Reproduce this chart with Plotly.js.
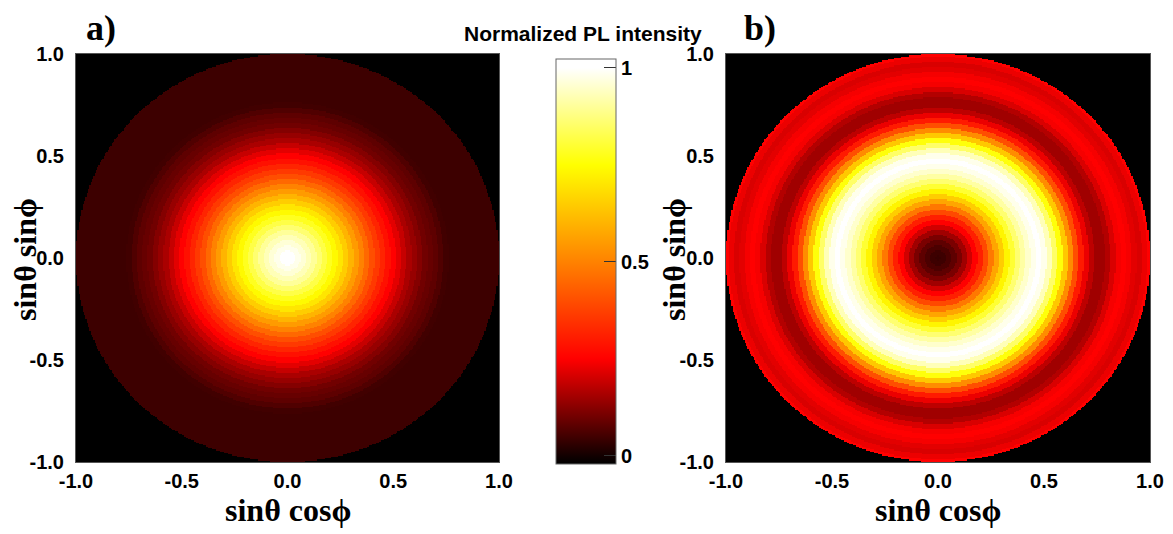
<!DOCTYPE html>
<html>
<head>
<meta charset="utf-8">
<script src="https://cdn.plot.ly/plotly-3.0.1.min.js"></script>
<style>html,body{margin:0;padding:0;background:#fff;}#chart{width:1173px;height:534px;}</style>
</head>
<body>
<div id="chart"></div>
<script>
// Radial sample positions (sinθ), shared by both panels
const radii = [0.000,0.025,0.050,0.075,0.100,0.125,0.150,0.175,0.200,0.225,
               0.250,0.275,0.300,0.325,0.350,0.375,0.400,0.425,0.450,0.475,
               0.500,0.525,0.550,0.575,0.600,0.625,0.650,0.675,0.700,0.725,
               0.750,0.775,0.800,0.825,0.850,0.875,0.900,0.925,0.950,0.975,1.000];
// Panel a) normalized PL intensity vs radius (read from picture)
const profileA = [1.00,1.00,0.98,0.96,0.93,0.90,0.86,0.82,0.78,0.74,
                  0.70,0.65,0.60,0.55,0.50,0.45,0.40,0.36,0.32,0.28,
                  0.25,0.22,0.19,0.16,0.14,0.12,0.10,0.09,0.08,0.065,
                  0.05,0.045,0.045,0.045,0.045,0.045,0.045,0.045,0.045,0.045,0.045];
// Panel b) normalized PL intensity vs radius (read from picture)
const profileB = [0.04,0.045,0.06,0.08,0.11,0.15,0.20,0.25,0.31,0.39,
                  0.48,0.57,0.65,0.73,0.80,0.86,0.91,0.95,0.98,1.00,
                  0.98,0.93,0.85,0.76,0.64,0.52,0.40,0.30,0.23,0.18,
                  0.15,0.15,0.17,0.21,0.24,0.25,0.24,0.22,0.21,0.23,0.25];
const axisTicks = [-1.0,-0.5,0.0,0.5,1.0];
const axisTickText = ['-1.0','-0.5','0.0','0.5','1.0'];
const cbTicks = [0,0.5,1];
const cbTickText = ['0','0.5','1'];
const panelLabels = ['a)','b)'];
const xTitle = 'sinθ cosϕ';
const yTitle = 'sinθ sinϕ';
const cbTitle = 'Normalized PL intensity';

// Build the Cartesian table from the radial samples (nearest sample)
const N = 320;
const step = radii[1]-radii[0];
const coords = [];
for (let i=0;i<N;i++) coords.push(-1 + (i+0.5)*2/N);
function buildGrid(profile){
  const z=[];
  for (let j=0;j<N;j++){
    const row=[];
    for (let i=0;i<N;i++){
      const r=Math.sqrt(coords[i]*coords[i]+coords[j]*coords[j]);
      if (r>1) { row.push(null); continue; }
      row.push(profile[Math.round(r/step)]);
    }
    z.push(row);
  }
  return z;
}

const zmin=-0.021, zmax=1.023;
function pos(v){ return (v-zmin)/(zmax-zmin); }
const colorscale=[
  [0,'rgb(0,0,0)'],
  [pos(0),'rgb(18,0,0)'],
  [pos(0.25),'rgb(255,0,0)'],
  [pos(0.5),'rgb(255,130,0)'],
  [pos(0.75),'rgb(255,255,0)'],
  [pos(1.0),'rgb(255,255,255)'],
  [1,'rgb(255,255,255)']
];

const W=1173,H=534;
const px=(v)=>v/W, py=(v)=>(H-v)/H;

const traces=[
  {type:'heatmap',x:coords,y:coords,z:buildGrid(profileA),xaxis:'x',yaxis:'y',
   zmin:zmin,zmax:zmax,colorscale:colorscale,hoverinfo:'skip',showscale:true,
   colorbar:{x:px(556),xanchor:'left',xpad:0,ypad:0,y:py(464),yanchor:'bottom',
     len:405,lenmode:'pixels',thickness:60,thicknessmode:'pixels',
     outlinecolor:'#666',outlinewidth:1,
     tickvals:cbTicks,ticktext:cbTickText,ticks:'inside',ticklen:12,tickcolor:'#333',tickwidth:1,
     tickfont:{family:'Liberation Sans, Arial',size:20,color:'#000',weight:'bold'}}},
  {type:'heatmap',x:coords,y:coords,z:buildGrid(profileB),xaxis:'x2',yaxis:'y2',
   zmin:zmin,zmax:zmax,colorscale:colorscale,hoverinfo:'skip',showscale:false}
];

const tickFont={family:'Liberation Sans, Arial',size:20,color:'#000',weight:'bold'};
function ax(domain,anchor,tlen){
  return {domain:domain,anchor:anchor,range:[-1,1],tickvals:axisTicks,ticktext:axisTickText,
    ticks:'outside',ticklen:tlen,tickcolor:'rgba(0,0,0,0)',tickfont:tickFont,
    showgrid:false,zeroline:false,showline:true,linecolor:'#555',linewidth:1,mirror:true,fixedrange:true};
}
const titleFont={family:'Liberation Serif, Times New Roman',size:32,color:'#000',weight:'bold'};
const labelFont={family:'Liberation Serif, Times New Roman',size:36,color:'#000',weight:'bold'};
function ann(text,x,y,font,angle){
  return {text:text,x:px(x),y:py(y),xref:'paper',yref:'paper',xanchor:'center',yanchor:'middle',
    showarrow:false,font:font,textangle:angle||0};
}

const layout={
  width:W,height:H,margin:{l:0,r:0,t:0,b:0},
  paper_bgcolor:'#fff',plot_bgcolor:'#000',showlegend:false,
  xaxis:ax([px(76),px(499)],'y',1),
  yaxis:ax([py(462),py(54)],'x',7),
  xaxis2:ax([px(726),px(1150)],'y2',1),
  yaxis2:ax([py(462),py(54)],'x2',7),
  annotations:[
    ann(panelLabels[0],101,28,labelFont),
    ann(panelLabels[1],760,28,labelFont),
    ann(xTitle,288,510,titleFont),
    ann(xTitle,938,510,titleFont),
    ann(yTitle,25,260,titleFont,-90),
    ann(yTitle,674,260,titleFont,-90),
    ann(cbTitle,583,33,{family:'Liberation Sans, Arial',size:21,color:'#000',weight:'bold'})
  ]
};
Plotly.newPlot('chart',traces,layout,{staticPlot:true,displayModeBar:false});
</script>
</body>
</html>
